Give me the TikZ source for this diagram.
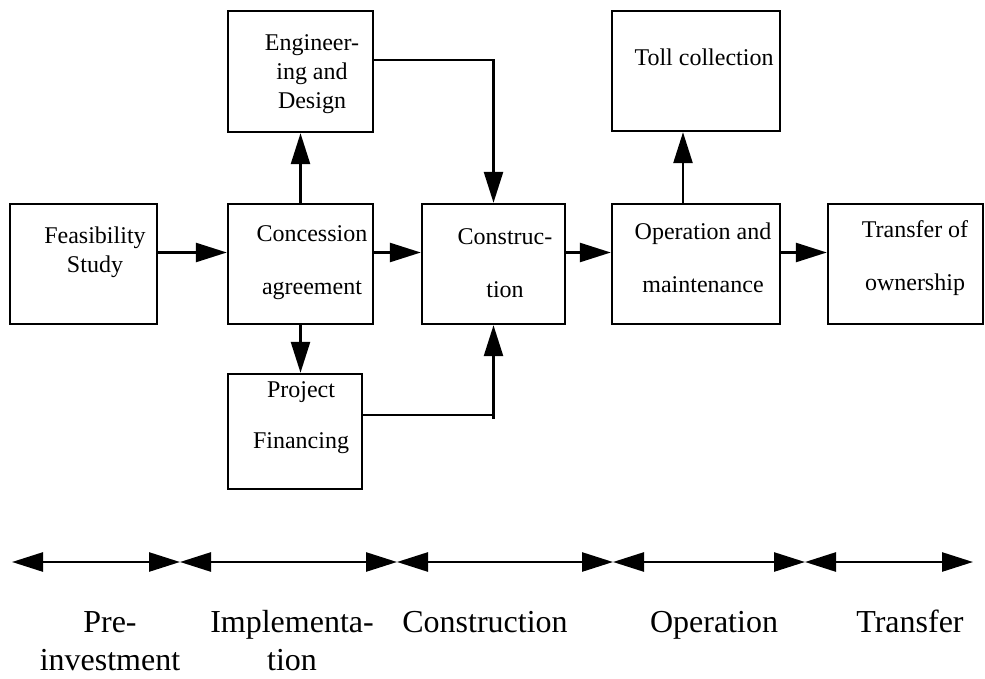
\documentclass[tikz,border=0pt]{standalone}
\usepackage{fontspec}
\setmainfont{Liberation Serif}
\usetikzlibrary{arrows.meta}
\tikzset{
  box/.style={draw, line width=1.2pt, minimum height=#1, inner sep=0pt},
  box/.default=60pt,
  boxtext/.style={font=\fontsize{12}{14.5}\selectfont, align=center, inner sep=0pt},
  phase/.style={font=\fontsize{16}{19}\selectfont, align=center, inner sep=0pt, anchor=base},
  arr/.style={line width=1.3pt, -{Triangle[length=15.5pt,width=9.5pt]}},
  span/.style={line width=1.3pt, {Triangle[length=15.5pt,width=9.5pt]}-{Triangle[length=15.5pt,width=9.5pt]}}
}
\begin{document}
\begin{tikzpicture}[x=0.5pt,y=-0.5pt]
\useasboundingbox (0,0) rectangle (985,679);
% boxes
\node[box, minimum width=73.5pt] (feas) at (83.5,264) {};
\node[box, minimum width=72.5pt] (conc) at (300.5,264) {};
\node[box=60.5pt, minimum width=72.5pt] (eng) at (300.5,71.5) {};
\node[box, minimum width=71.5pt] (cons) at (493.5,264) {};
\node[box, minimum width=84pt] (oper) at (696,264) {};
\node[box, minimum width=84pt] (toll) at (696,71) {};
\node[box, minimum width=77.5pt] (trans) at (905.5,264) {};
\node[box=57.5pt, minimum width=67pt] (proj) at (295,431.5) {};
% box texts
\node[boxtext] (feastext) at (95,252) {Feasibility\\Study};
\node[boxtext] (conctext) at (312,263) {Concession\\[12pt]agreement};
\node[boxtext] (engtext) at (312,74) {Engineer-\\ing and\\Design};
\node[boxtext] (constext) at (505,263) {Construc-\\[12pt]tion};
\node[boxtext] (opertext) at (703,258) {Operation and\\[12pt]maintenance};
\node[boxtext] (tolltext) at (704,57) {Toll collection};
\node[boxtext] (transtext) at (915,258) {Transfer of\\[12pt]ownership};
\node[boxtext] (projtext) at (301,418) {Project\\[11pt]Financing};
% connectors
\draw[arr] ([yshift=5.75pt]feas.east) -- ([yshift=5.75pt]conc.west);
\draw[arr] ([yshift=5.75pt]conc.east) -- ([yshift=5.75pt]cons.west);
\draw[arr] ([yshift=5.75pt]cons.east) -- ([yshift=5.75pt]oper.west);
\draw[arr] ([yshift=5.75pt]oper.east) -- ([yshift=5.75pt]trans.west);
\draw[arr] (conc.north) -- (eng.south);
\draw[arr] (conc.south) -- (conc.south |- proj.north);
\draw[arr] ([yshift=5.75pt]eng.east) -| (cons.north);
\coordinate (projout) at ([yshift=8.25pt]proj.east);
\coordinate (projjoin) at (projout -| cons.south);
\draw[arr] (projout) -| (cons.south);
\draw[line width=1.3pt] (projjoin) -- ++(0,4);
\draw[arr] ([xshift=-6.5pt]oper.north) -- ([xshift=-6.5pt]toll.south);
% time line
\coordinate (t0) at (12,562);
\coordinate (t1) at (180,562);
\coordinate (t2) at (397,562);
\coordinate (t3) at (613,562);
\coordinate (t4) at (805,562);
\coordinate (t5) at (973,562);
\foreach \a/\b in {t0/t1,t1/t2,t2/t3,t3/t4,t4/t5}
\draw[span] (\a) -- (\b);
% phases
\node[phase] (pre) at (110,670) {Pre-\\investment};
\node[phase] (impl) at (292,670) {Implementa-\\tion};
\node[phase] (constr) at (485,632) {Construction};
\node[phase] (oper2) at (714,632) {Operation};
\node[phase] (transf) at (910,632) {Transfer};
\end{tikzpicture}
\end{document}
